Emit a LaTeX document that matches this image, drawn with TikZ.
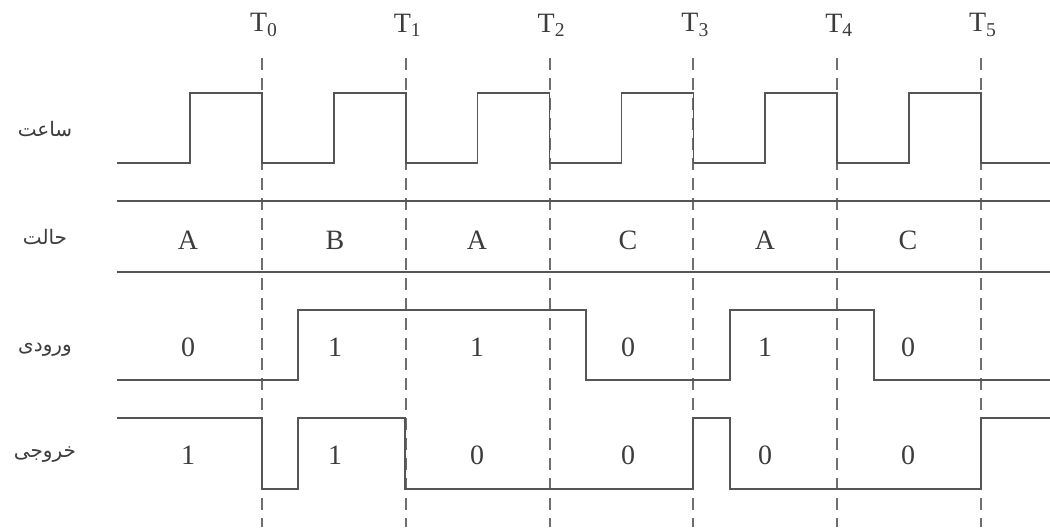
\documentclass[tikz,border=0pt]{standalone}
\usepackage{fontspec}
\setmainfont{Liberation Serif}
\newfontfamily\arabicfont[Script=Arabic]{DejaVu Sans}
\TeXXeTstate=1
\usepackage{xcolor}
\definecolor{wavegray}{RGB}{85,85,85}
\definecolor{textgray}{RGB}{60,60,60}
\usetikzlibrary{positioning}

\begin{document}
\begin{tikzpicture}[x=0.5pt, y=-0.5pt,
  wave/.style={wavegray, line width=0.8pt},
  tline/.style={wavegray!85, line width=1pt, dash pattern=on 6pt off 4pt},
  val/.style={textgray, font=\fontsize{14}{16}\selectfont},
  tlabel/.style={textgray, font=\fontsize{14}{16}\selectfont},
  rowlabel/.style={textgray, font=\arabicfont\fontsize{10}{12}\selectfont}]
  \useasboundingbox (0,0) rectangle (1050,527);

  % --- Time marks T0..T5 ---
  \foreach \i in {0,...,5} {
    \coordinate (t\i top) at ({262+143.8*\i},58);
    \coordinate (t\i bot) at ({262+143.8*\i},527);
    \draw[tline] (t\i top) -- (t\i bot);
    \node[tlabel] (tl\i) at ({264+143.8*\i},25) {T\textsubscript{\i}};
  }

  % --- Row labels ---
  \node[rowlabel] (lclock)  at (45,129) {\beginR ساعت\endR};
  \node[rowlabel] (lstate)  at (45,237) {\beginR حالت\endR};
  \node[rowlabel] (linput)  at (45,350) {\beginR ورودی\endR};
  \node[rowlabel] (loutput) at (45,455) {\beginR خروجی\endR};

  % --- Clock ---
  \draw[wave] (117,163)
    \foreach \i in {0,...,5} { -| ({190+143.8*\i},93) -| ({262+143.8*\i},163) }
    -- (1050,163);

  % --- State row ---
  \draw[wave] (117,201) -- (1050,201);
  \draw[wave] (117,272) -- (1050,272);
  \foreach \s [count=\k] in {A,B,A,C,A,C} {
    \pgfmathsetmacro{\cx}{{188,335,477,628,765,908}[\k-1]}
    \node[val] (st\k) at (\cx,240) {\s};
  }

  % --- Input ---
  \draw[wave] (117,380) -| (298,310) -| (586,380) -| (730,310) -| (874,380) -- (1050,380);
  \foreach \v [count=\k] in {0,1,1,0,1,0} {
    \pgfmathsetmacro{\cx}{{188,335,477,628,765,908}[\k-1]}
    \node[val] (in\k) at (\cx,347) {\v};
  }

  % --- Output ---
  \draw[wave] (117,418) -| (262,489) -| (298,418) -| (405,489) -| (693,418)
    -| (730,489) -| (981,418) -- (1050,418);
  \foreach \v [count=\k] in {1,1,0,0,0,0} {
    \pgfmathsetmacro{\cx}{{188,335,477,628,765,908}[\k-1]}
    \node[val] (out\k) at (\cx,455) {\v};
  }
\end{tikzpicture}
\end{document}
